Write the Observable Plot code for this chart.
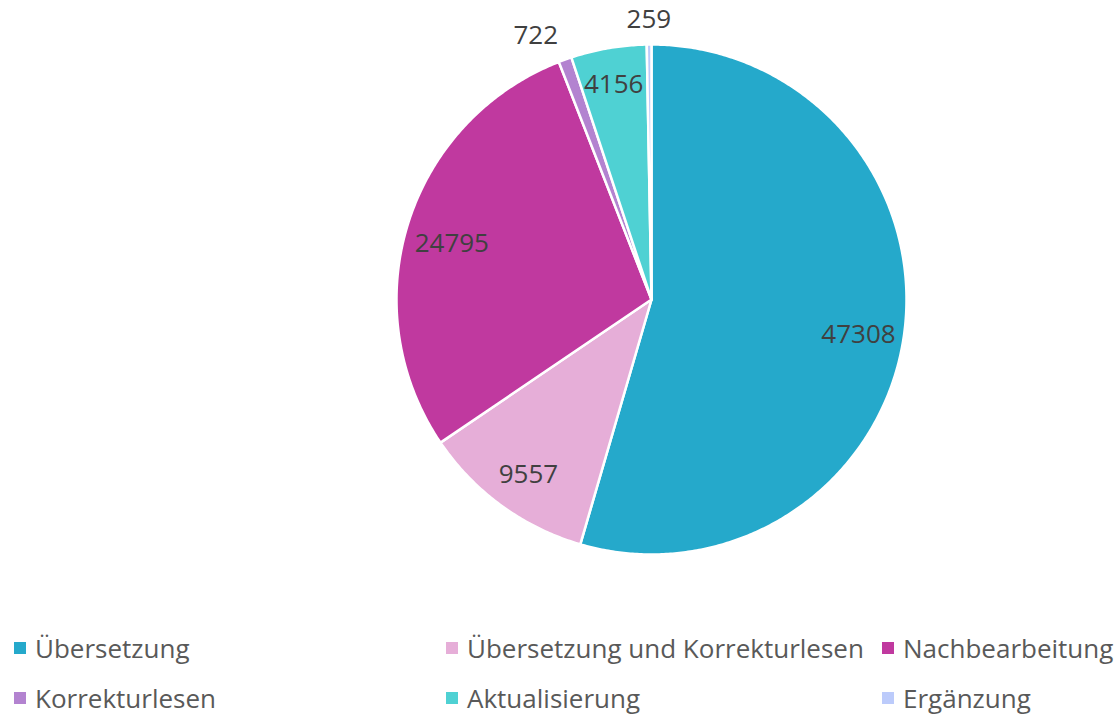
<!DOCTYPE html>
<html>
<head>
<meta charset="utf-8">
<script src="https://cdn.jsdelivr.net/npm/d3@7"></script>
<script src="https://cdn.jsdelivr.net/npm/@observablehq/plot@0.6"></script>
<style>
  html, body { margin: 0; padding: 0; background: #fff; }
  body { width: 1120px; height: 716px; overflow: hidden; font-family: "Open Sans", "Noto Sans", sans-serif; }
  #legend { display: grid; grid-template-columns: 432px 436px auto; padding-left: 14px; padding-top: 3px; }
  .item { display: flex; align-items: center; height: 50px; font-size: 26px; color: #595959; white-space: nowrap; }
  .sw { width: 12px; height: 12px; margin-right: 9px; flex: none; }
</style>
</head>
<body>
<div id="chart"></div>
<div id="legend"></div>
<script>
const categories = ["Übersetzung", "Übersetzung und Korrekturlesen", "Nachbearbeitung", "Korrekturlesen", "Aktualisierung", "Ergänzung"];
const values = [47308, 9557, 24795, 722, 4156, 259];
const colors = ["#25a9cb", "#e6aed8", "#c0399f", "#b383d0", "#4fd1d3", "#bccbfb"];

const W = 1120, H = 620;
const R = 255, CX = 651, CY = 299; // pixel layout of the pie
const total = d3.sum(values);

// build slice polygons in data units (radius = 1)
const slices = [];
const labels = [];
let a0 = 0;
categories.forEach((name, i) => {
  const a1 = a0 + values[i] / total * 2 * Math.PI;
  slices.push({name, u: 0, v: 0});
  const n = Math.max(2, Math.ceil((a1 - a0) / (Math.PI / 360)));
  for (let k = 0; k <= n; k++) {
    const a = a0 + (a1 - a0) * k / n;
    slices.push({name, u: Math.sin(a), v: Math.cos(a)});
  }
  slices.push({name, u: 0, v: 0});
  const mid = (a0 + a1) / 2;
  const frac = values[i] / total;
  const outside = frac < 0.02;
  const rr = outside ? (frac < 0.005 ? 1.12 : 1.15) : (frac < 0.1 ? 0.88 : 0.82);
  const am = frac < 0.005 ? mid : (outside ? mid - 0.06 : mid);
  labels.push({name, value: values[i], outside, u: Math.sin(am) * rr, v: Math.cos(am) * rr});
  a0 = a1;
});

const chart = Plot.plot({
  width: W, height: H,
  margin: 0,
  x: {domain: [-CX / R, (W - CX) / R], axis: null},
  y: {domain: [-(H - CY) / R, CY / R], axis: null},
  color: {domain: categories, range: colors},
  style: {fontFamily: "'Open Sans', 'Noto Sans', sans-serif", background: "white"},
  marks: [
    Plot.line(slices, {x: "u", y: "v", z: "name", fill: "name", stroke: "white", strokeWidth: 2.5, strokeLinejoin: "round", curve: "linear"}),
    Plot.text(labels, {x: "u", y: "v", text: d => String(d.value), fontSize: 26, dy: 6, fill: "#404040"})
  ]
});
document.getElementById("chart").appendChild(chart);

const legend = document.getElementById("legend");
categories.forEach((name, i) => {
  const it = document.createElement("div");
  it.className = "item";
  it.innerHTML = `<span class="sw" style="background:${colors[i]}"></span><span>${name}</span>`;
  legend.appendChild(it);
});
</script>
</body>
</html>
